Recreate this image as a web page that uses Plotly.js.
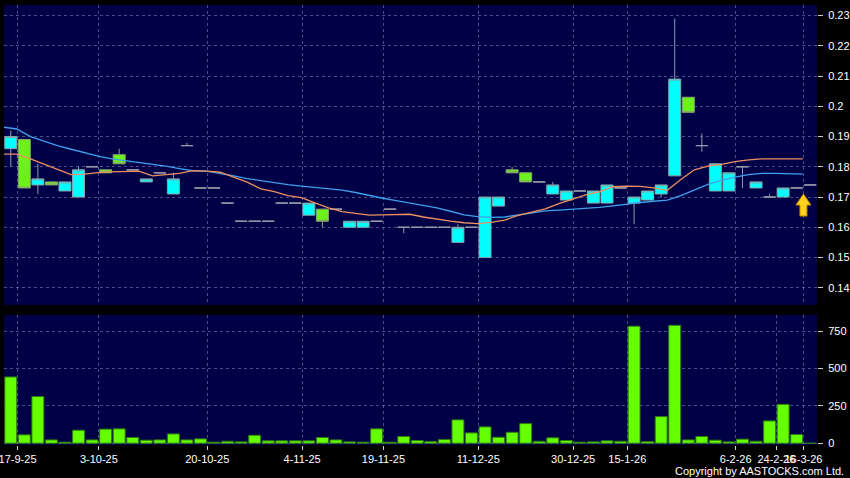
<!DOCTYPE html>
<html><head><meta charset="utf-8">
<script src="https://cdn.plot.ly/plotly-3.0.1.min.js"></script>
<style>html,body{margin:0;padding:0;background:#000;}#chart{width:850px;height:478px;}</style>
</head><body><div id="chart"></div>
<script>
// Daily OHLC (index 0 .. 59)
const openP  = [0.186,0.189,0.174,0.175,0.172,0.170,0.180,0.179,0.184,0.179,
                0.175,0.178,0.171,0.187,0.173,0.173,0.168,0.162,0.162,0.162,
                0.168,0.168,0.164,0.166,0.166,0.160,0.160,0.162,0.166,0.160,
                0.160,0.160,0.160,0.155,0.160,0.150,0.167,0.179,0.178,0.175,
                0.171,0.169,0.172,0.168,0.168,0.173,0.168,0.169,0.171,0.177,
                0.203,0.187,0.172,0.172,0.180,0.173,0.170,0.170,0.173,0.174];
const highP  = [0.192,0.189,0.181,0.175,0.175,0.180,0.180,0.179,0.186,0.179,
                0.176,0.178,0.178,0.188,0.173,0.173,0.168,0.162,0.162,0.162,
                0.168,0.168,0.168,0.166,0.166,0.162,0.162,0.162,0.166,0.160,
                0.160,0.160,0.160,0.161,0.160,0.170,0.170,0.180,0.178,0.175,
                0.175,0.172,0.172,0.172,0.174,0.173,0.170,0.172,0.174,0.229,
                0.203,0.191,0.181,0.178,0.180,0.175,0.171,0.173,0.173,0.174];
const lowP   = [0.180,0.173,0.171,0.174,0.172,0.170,0.180,0.178,0.181,0.179,
                0.175,0.178,0.171,0.187,0.173,0.173,0.168,0.162,0.162,0.162,
                0.168,0.168,0.164,0.160,0.166,0.160,0.160,0.162,0.166,0.158,
                0.160,0.160,0.160,0.155,0.160,0.150,0.167,0.178,0.175,0.175,
                0.171,0.169,0.172,0.168,0.168,0.173,0.161,0.169,0.170,0.177,
                0.198,0.185,0.172,0.172,0.173,0.173,0.170,0.170,0.173,0.174];
const closeP = [0.190,0.173,0.176,0.174,0.175,0.179,0.180,0.178,0.181,0.179,
                0.176,0.178,0.176,0.187,0.173,0.173,0.168,0.162,0.162,0.162,
                0.168,0.168,0.168,0.162,0.166,0.162,0.162,0.162,0.166,0.160,
                0.160,0.160,0.160,0.160,0.160,0.170,0.170,0.178,0.175,0.175,
                0.174,0.172,0.172,0.172,0.174,0.173,0.170,0.172,0.174,0.209,
                0.198,0.187,0.181,0.178,0.180,0.175,0.170,0.173,0.173,0.174];
// Volume ('000), index 0 .. 59
const volume = [443,56,312,22,7,87,22,94,96,38,
                20,22,62,22,29,7,13,9,53,16,
                16,16,16,38,22,9,7,96,7,45,
                18,12,25,156,69,109,40,73,131,13,
                36,18,7,9,16,13,782,11,178,788,
                22,45,20,9,27,13,149,260,58,0];
// Moving averages, from the day before index 0 (-1) to index 58
const maShort = [0.1842,0.1842,0.1826,0.1809,0.1791,0.1774,0.1776,0.1781,0.1783,0.1785,
                 0.1786,0.1770,0.1773,0.1778,0.1787,0.1786,0.1782,0.1766,0.1749,0.1727,
                 0.1718,0.1705,0.1698,0.1681,0.1664,0.1652,0.1646,0.1640,0.1641,0.1642,
                 0.1643,0.1634,0.1626,0.1620,0.1615,0.1612,0.1616,0.1624,0.1639,0.1650,
                 0.1661,0.1678,0.1692,0.1707,0.1717,0.1734,0.1736,0.1735,0.1730,0.1722,
                 0.1758,0.1790,0.1802,0.1808,0.1817,0.1823,0.1826,0.1826,0.1826,0.1826];
const maLong  = [0.1931,0.1925,0.1900,0.1884,0.1870,0.1858,0.1846,0.1835,0.1826,0.1820,
                 0.1815,0.1810,0.1802,0.1794,0.1787,0.1786,0.1779,0.1770,0.1761,0.1754,
                 0.1747,0.1741,0.1736,0.1732,0.1728,0.1723,0.1715,0.1705,0.1696,0.1688,
                 0.1680,0.1672,0.1664,0.1653,0.1641,0.1635,0.1633,0.1634,0.1641,0.1649,
                 0.1654,0.1657,0.1660,0.1662,0.1666,0.1671,0.1677,0.1682,0.1686,0.1690,
                 0.1705,0.1724,0.1742,0.1755,0.1766,0.1774,0.1778,0.1778,0.1777,0.1776];
// Date tick labels and the day index they sit after
const tickDays   = [0,6,14,21,27,34,41,45,53,56,58];
const tickLabels = ['17-9-25','3-10-25','20-10-25','4-11-25','19-11-25','11-12-25','30-12-25','15-1-26','6-2-26','24-2-26','16-3-26'];
const priceTicks = [0.14,0.15,0.16,0.17,0.18,0.19,0.20,0.21,0.22,0.23];
const priceTickText = ['0.14','0.15','0.16','0.17','0.18','0.19','0.2','0.21','0.22','0.23'];
const volTicks = [0,250,500,750];
const volTickText = ['0','250','500','750'];

const days = openP.map((_, i) => i);
const bodyIdx = days.filter(i => openP[i] !== closeP[i]);
const flatIdx = days.filter(i => openP[i] === closeP[i]);
const pick = (arr, idx) => idx.map(i => arr[i]);
const maX = maShort.map((_, k) => k - 1 + 0.45);
const gridX = tickDays.map(d => d + 0.5);
const priceGridX = gridX.filter((_, k) => tickLabels[k] !== '24-2-26');

const gridCol = 'rgba(150,150,205,0.5)';
const grayCol = '#9a9aa8';

const traces = [
  {type:'candlestick', x: pick(days, bodyIdx), open: pick(openP, bodyIdx), high: pick(highP, bodyIdx),
   low: pick(lowP, bodyIdx), close: pick(closeP, bodyIdx), xaxis:'x', yaxis:'y', whiskerwidth:0,
   increasing:{line:{color:'#86a4a8', width:1}, fillcolor:'#00ffff'},
   decreasing:{line:{color:'#8aa470', width:1}, fillcolor:'#6cf21a'}, hoverinfo:'skip'},
  {type:'candlestick', x: pick(days, flatIdx), open: pick(openP, flatIdx), high: pick(highP, flatIdx),
   low: pick(lowP, flatIdx), close: pick(closeP, flatIdx), xaxis:'x', yaxis:'y', whiskerwidth:0,
   increasing:{line:{color:grayCol, width:1}, fillcolor:grayCol},
   decreasing:{line:{color:grayCol, width:1}, fillcolor:grayCol}, hoverinfo:'skip'},
  {type:'scatter', mode:'lines', x: maX, y: maLong, xaxis:'x', yaxis:'y',
   line:{color:'#3f9fea', width:1.3}, hoverinfo:'skip'},
  {type:'scatter', mode:'lines', x: maX, y: maShort, xaxis:'x', yaxis:'y',
   line:{color:'#ee9060', width:1.3}, hoverinfo:'skip'},
  {type:'bar', x: days, y: volume, xaxis:'x2', yaxis:'y2', width:0.88,
   marker:{color:'#66ff00', line:{color:'#2e7a10', width:1}}, hoverinfo:'skip'}
];

const xDom = [4/850, 817/850];
const layout = {
  width:850, height:478,
  paper_bgcolor:'#000000', plot_bgcolor:'#000046',
  margin:{l:0, r:0, t:0, b:0},
  showlegend:false,
  boxgap:0.115, boxgroupgap:0,
  font:{family:'Liberation Sans, Arial, sans-serif', size:11, color:'#ffffff'},
  xaxis:{domain:xDom, range:[-0.5, 59.5], anchor:'y', tickmode:'array', tickvals:priceGridX,
         showticklabels:false, ticks:'', showgrid:true, gridcolor:gridCol, griddash:'3px,3px', gridwidth:1,
         zeroline:false, showline:false, rangeslider:{visible:false}, fixedrange:true},
  yaxis:{domain:[1-305/478, 1-5/478], range:[0.1343, 0.2335], side:'right', anchor:'x',
         tickmode:'array', tickvals:priceTicks, ticktext:priceTickText,
         ticks:'outside', ticklen:5, tickcolor:'#cfcfcf', ticklabelstandoff:3,
         showgrid:true, gridcolor:gridCol, griddash:'3px,3px', zeroline:false, showline:false, fixedrange:true},
  xaxis2:{domain:xDom, range:[-0.5, 59.5], anchor:'y2', tickmode:'array', tickvals:gridX, ticktext:tickLabels,
          ticks:'outside', ticklen:4, tickcolor:'#cfcfcf', showgrid:true, gridcolor:gridCol, griddash:'3px,3px',
          zeroline:false, showline:false, fixedrange:true, tickangle:0, ticklabeloverflow:'allow'},
  yaxis2:{domain:[1-445/478, 1-315/478], range:[-12, 857], side:'right', anchor:'x2',
          tickmode:'array', tickvals:volTicks, ticktext:volTickText,
          ticks:'outside', ticklen:5, tickcolor:'#cfcfcf', ticklabelstandoff:3,
          showgrid:true, gridcolor:gridCol, griddash:'3px,3px', zeroline:false, showline:false, fixedrange:true},
  shapes:[{type:'path', xref:'x', yref:'y', xsizemode:'pixel', ysizemode:'pixel',
           xanchor: days.length - 1.5, yanchor: 0.17,
           path:'M 0 3 L 7.5 -8 L 3.5 -8 L 3.5 -19 L -3.5 -19 L -3.5 -8 L -7.5 -8 Z',
           fillcolor:'#ffd21f', line:{color:'#c98400', width:1}, layer:'above'}],
  annotations:[{xref:'paper', yref:'paper', x:845.5/850, y:1-471/478, xanchor:'right', yanchor:'middle',
                text:'Copyright by AASTOCKS.com Ltd.', showarrow:false,
                font:{family:'Liberation Sans, Arial, sans-serif', size:11, color:'#ffffff'}}]
};

Plotly.newPlot('chart', traces, layout, {staticPlot:true, displayModeBar:false});
</script>
</body></html>
